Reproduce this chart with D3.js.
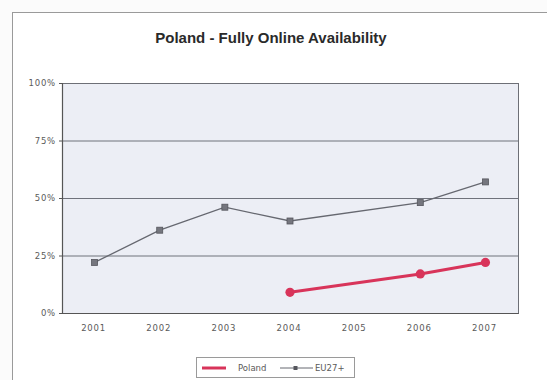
<!DOCTYPE html>
<html>
<head>
<meta charset="utf-8">
<script src="https://cdn.jsdelivr.net/npm/d3@7"></script>
<style>
  html, body { margin: 0; padding: 0; background: #ffffff; }
  svg { display: block; }
</style>
</head>
<body>
<svg id="chart" width="547" height="380"></svg>
<script>
// Fully online availability of basic public services, share of services
const years = ["2001", "2002", "2003", "2004", "2005", "2006", "2007"];
const polandValues = [null, null, null, 9, null, 17, 22];
const eu27Values = [22, 36, 46, 40, null, 48, 57];
const yTicks = [0, 25, 50, 75, 100];
const seriesNames = ["Poland", "EU27+"];

const svg = d3.select("#chart");
const W = 547, H = 380;
const plot = { left: 62, right: 518, top: 83, bottom: 313 };
const labelFont = "DejaVu Sans, sans-serif";

// outer chart frame
svg.append("rect").attr("x", 0).attr("y", 0).attr("width", W).attr("height", H).attr("fill", "#fbfbfb");
svg.append("rect").attr("x", 12.5).attr("y", 12.5).attr("width", W).attr("height", H)
  .attr("fill", "#ffffff").attr("stroke", "#9a9a9a").attr("stroke-width", 1);

svg.append("text")
  .attr("x", 271).attr("y", 43)
  .attr("text-anchor", "middle")
  .attr("font-family", "Liberation Sans, Arial, sans-serif")
  .attr("font-weight", "bold")
  .attr("font-size", 15)
  .attr("fill", "#2a2a2a")
  .text("Poland - Fully Online Availability");

const x = d3.scaleBand().domain(years).range([plot.left, plot.right]);
const y = d3.scaleLinear().domain([0, 100]).range([plot.bottom, plot.top]);

// plot background
svg.append("rect")
  .attr("x", plot.left).attr("y", plot.top)
  .attr("width", plot.right - plot.left).attr("height", plot.bottom - plot.top)
  .attr("fill", "#eceef5");

// horizontal gridlines
svg.append("g").selectAll("line").data(yTicks.filter(t => t > 0)).join("line")
  .attr("x1", plot.left).attr("x2", plot.right)
  .attr("y1", d => y(d) + 0.5).attr("y2", d => y(d) + 0.5)
  .attr("stroke", "#6f727b").attr("stroke-width", 1);

// plot frame
svg.append("rect")
  .attr("x", plot.left + 0.5).attr("y", plot.top + 0.5)
  .attr("width", plot.right - plot.left).attr("height", plot.bottom - plot.top)
  .attr("fill", "none").attr("stroke", "#6d6f76").attr("stroke-width", 1);

// axes
const yAxis = svg.append("g")
  .attr("transform", `translate(${plot.left},0)`)
  .call(d3.axisLeft(y).tickValues(yTicks).tickFormat(d => d + "%").tickSize(3).tickPadding(3));
const xAxis = svg.append("g")
  .attr("transform", `translate(0,${plot.bottom})`)
  .call(d3.axisBottom(x).tickSize(0).tickPadding(12));

[yAxis, xAxis].forEach(g => {
  g.select(".domain").attr("stroke", "#555").attr("stroke-width", 1.2);
  g.selectAll(".tick line").attr("stroke", "#555");
  g.selectAll("text")
    .attr("font-family", labelFont)
    .attr("font-size", 8.5)
    .attr("letter-spacing", 0.8)
    .attr("fill", "#5a5a5a");
});
xAxis.selectAll("text").attr("dx", -1);

const cx = d => x(d) + x.bandwidth() / 2;

function pointsOf(values) {
  return years.map((yr, i) => ({ yr, v: values[i] })).filter(p => p.v !== null);
}

const line = d3.line().x(p => cx(p.yr)).y(p => y(p.v));

// EU27+ series
const euPts = pointsOf(eu27Values);
svg.append("path").datum(euPts)
  .attr("d", line).attr("fill", "none")
  .attr("stroke", "#666870").attr("stroke-width", 1.3);
svg.append("g").selectAll("rect").data(euPts).join("rect")
  .attr("x", p => cx(p.yr) - 3).attr("y", p => y(p.v) - 3)
  .attr("width", 6).attr("height", 6)
  .attr("fill", "#75767e").attr("stroke", "#55565d").attr("stroke-width", 0.8);

// Poland series
const plPts = pointsOf(polandValues);
svg.append("path").datum(plPts)
  .attr("d", line).attr("fill", "none")
  .attr("stroke", "#d8345a").attr("stroke-width", 3);
svg.append("g").selectAll("circle").data(plPts).join("circle")
  .attr("cx", p => cx(p.yr)).attr("cy", p => y(p.v)).attr("r", 4.6)
  .attr("fill", "#d8345a");

// legend
const lg = svg.append("g");
lg.append("rect").attr("x", 196.5).attr("y", 357.5).attr("width", 158).attr("height", 20)
  .attr("fill", "#ffffff").attr("stroke", "#9a9a9a").attr("stroke-width", 1);
lg.append("line").attr("x1", 202).attr("x2", 226).attr("y1", 368).attr("y2", 368)
  .attr("stroke", "#d8345a").attr("stroke-width", 3);
lg.append("text").attr("x", 238).attr("y", 371)
  .attr("font-family", labelFont).attr("font-size", 8.5).attr("fill", "#5a5a5a")
  .text(seriesNames[0]);
lg.append("line").attr("x1", 280).attr("x2", 313).attr("y1", 368).attr("y2", 368)
  .attr("stroke", "#666870").attr("stroke-width", 1);
lg.append("rect").attr("x", 293.5).attr("y", 366).attr("width", 4).attr("height", 4)
  .attr("fill", "#55565d");
lg.append("text").attr("x", 315).attr("y", 371)
  .attr("font-family", labelFont).attr("font-size", 8.5).attr("fill", "#5a5a5a")
  .text(seriesNames[1]);
</script>
</body>
</html>
